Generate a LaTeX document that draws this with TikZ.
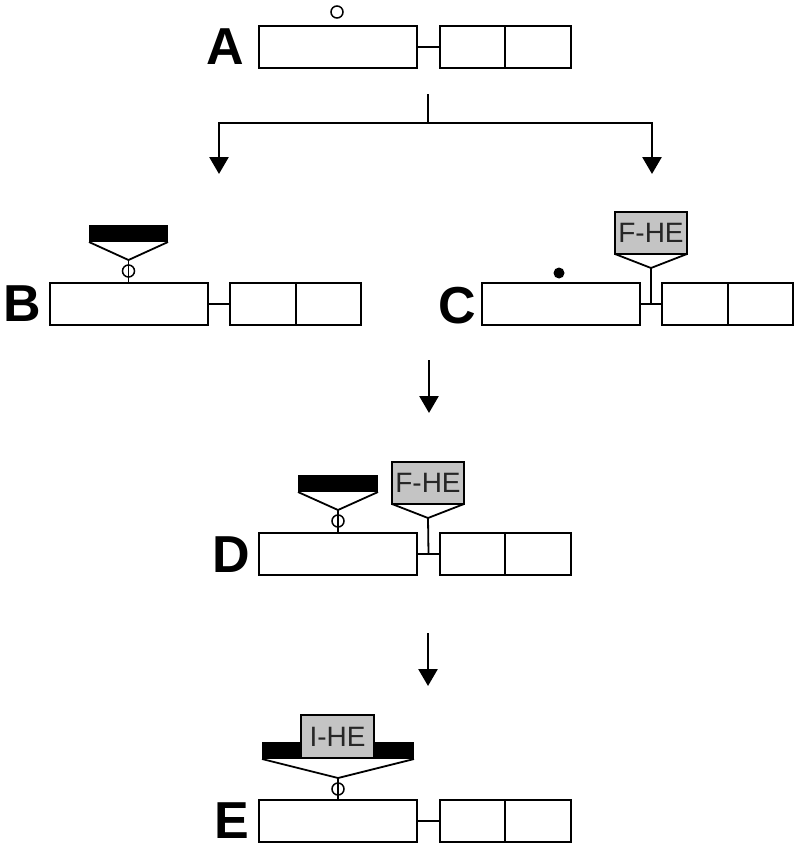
\documentclass[tikz,border=0pt]{standalone}
\usepackage{fontspec}
\setmainfont{Liberation Sans}
\usepackage{tikz}
\usetikzlibrary{arrows.meta}
\definecolor{hegray}{RGB}{196,196,196}

\begin{document}
\begin{tikzpicture}[x=1pt,y=-1pt,line width=1.8pt]
    \tikzset{exon/.style={draw,inner sep=0,outer sep=0,minimum height=42pt},
      bar/.style={fill=black,inner sep=0,outer sep=0,minimum height=17pt},
      tag/.style={draw,fill=hegray,inner sep=0,outer sep=0,minimum width=72pt,
        minimum height=42pt,text=black!85,font=\fontsize{28}{28}\selectfont},
      site/.style={draw,circle,inner sep=0,outer sep=0,minimum size=12pt,line width=1.5pt},
      dot/.style={fill=black,circle,inner sep=0,minimum size=11pt},
      letter/.style={font=\fontsize{52}{52}\selectfont\bfseries},
      flow/.style={line width=2.7pt,-{Triangle[width=19pt,length=17pt]}}}
    \useasboundingbox (0,0) rectangle (800,851);
    % A
    \node[letter] (LA) at (225,47) {A};
    \node[exon,minimum width=158pt] (A1) at (338,47) {};
    \node[exon,minimum width=65pt] (A2) at (472.5,47) {};
    \node[exon,minimum width=66pt] (A3) at (538,47) {};
    \draw (A1.east) -- (A2.west);
    \node[site] (Asite) at (337,12) {};
    % split
    \coordinate (top) at (428,94);
    \coordinate (split) at (428,123);
    \coordinate (toB) at (219,174);
    \coordinate (toC) at (652,174);
    \draw[line width=2.7pt] (top) -- (split);
    \draw[flow] (split) -| (toB);
    \draw[flow] (split) -| (toC);
    % B
    \node[letter] (LB) at (22,304) {B};
    \node[exon,minimum width=158pt] (B1) at (129,304) {};
    \node[exon,minimum width=66pt] (B2) at (263,304) {};
    \node[exon,minimum width=65pt] (B3) at (328.5,304) {};
    \draw (B1.east) -- (B2.west);
    \node[bar,minimum width=79pt] (Bbar) at (128.5,233.5) {};
    \coordinate (Bapex) at (128.5,260);
    \node[site] (Bsite) at (128.5,271) {};
    \draw (Bbar.south west) -- (Bapex) -- (Bbar.south east);
    \draw (Bapex) -- (Bapex |- B1.north);
    % C
    \node[letter] (LC) at (457,306) {C};
    \node[exon,minimum width=158pt] (C1) at (561,304) {};
    \node[exon,minimum width=66pt] (C2) at (695,304) {};
    \node[exon,minimum width=65pt] (C3) at (760.5,304) {};
    \draw (C1.east) -- coordinate (Clink) (C2.west);
    \node[dot] (Cdot) at (559,273) {};
    \node[tag] (Ctag) at (651,233) {F-HE};
    \coordinate (Capex) at (651,268);
    \draw (Ctag.south west) -- (Capex) -- (Ctag.south east);
    \draw (Capex) -- (Clink);
    % C to D
    \coordinate (s1) at (429,360);
    \coordinate (e1) at (429,413);
    \draw[flow] (s1) -- (e1);
    % D
    \node[letter] (LD) at (231,555) {D};
    \node[exon,minimum width=158pt] (D1) at (338,554) {};
    \node[exon,minimum width=65pt] (D2) at (472.5,554) {};
    \node[exon,minimum width=66pt] (D3) at (538,554) {};
    \draw (D1.east) -- coordinate (Dlink) (D2.west);
    \node[bar,minimum width=80pt] (Dbar) at (338,483.5) {};
    \coordinate (Dapex) at (338,510);
    \node[site] (Dsite) at (338,521) {};
    \draw (Dbar.south west) -- (Dapex) -- (Dbar.south east);
    \draw (Dapex) -- (Dapex |- D1.north);
    \node[tag] (Dtag) at (428,483) {F-HE};
    \coordinate (Dapex2) at (428,518);
    \draw (Dtag.south west) -- (Dapex2) -- (Dtag.south east);
    \draw (Dapex2) -- (Dlink);
    % D to E
    \coordinate (s2) at (428,633);
    \coordinate (e2) at (428,686);
    \draw[flow] (s2) -- (e2);
    % E
    \node[letter] (LE) at (232,821) {E};
    \node[exon,minimum width=158pt] (E1) at (338,821) {};
    \node[exon,minimum width=65pt] (E2) at (472.5,821) {};
    \node[exon,minimum width=66pt] (E3) at (538,821) {};
    \draw (E1.east) -- (E2.west);
    \node[bar,minimum width=152pt] (Ebar) at (338,750.5) {};
    \node[tag,minimum width=73pt,minimum height=43pt] (Etag) at (337.5,736.5) {I-HE};
    \coordinate (Eapex) at (338,778);
    \node[site] (Esite) at (338,789) {};
    \draw (Ebar.south west) -- (Eapex) -- (Ebar.south east);
    \draw (Eapex) -- (Eapex |- E1.north);
\end{tikzpicture}
\end{document}
